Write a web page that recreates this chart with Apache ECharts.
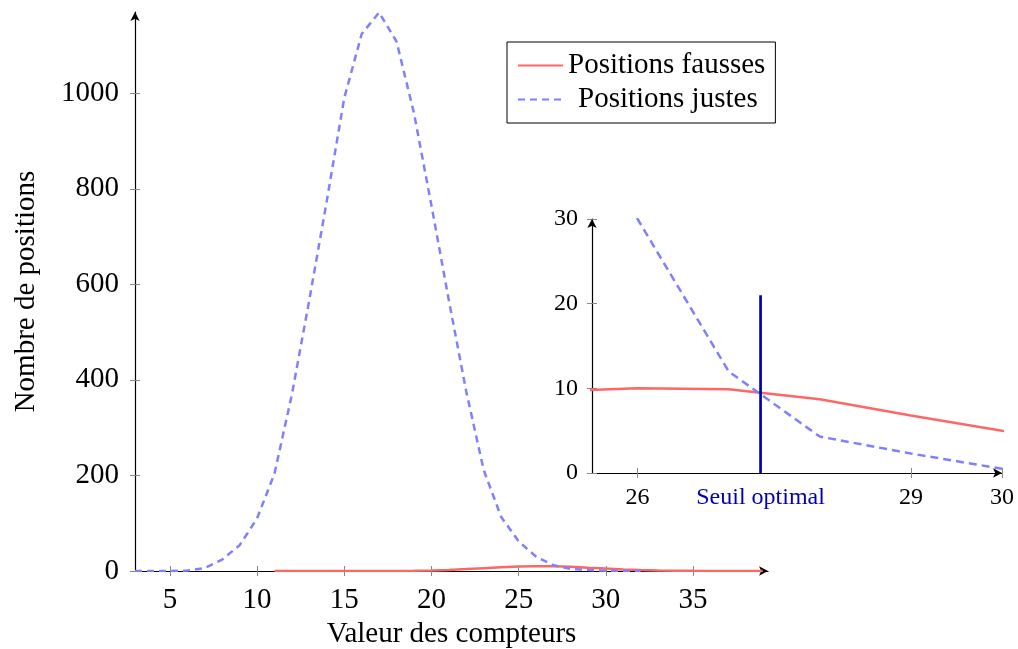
<!DOCTYPE html>
<html>
<head>
<meta charset="utf-8">
<script src="https://cdn.jsdelivr.net/npm/echarts@6/dist/echarts.min.js"></script>
<style>
html,body{margin:0;padding:0;background:#fff;}
#chart{width:1018px;height:649px;}
</style>
</head>
<body>
<div id="chart"></div>
<script>
// ---- data ----
const seriesNames = ['Positions fausses', 'Positions justes'];
const justesX = [3,4,5,6,7,8,9,10,11,12,13,14,15,16,17,18,19,20,21,22,23,24,25,26,27,28,29,30,31,32];
const justesY = [0,0,0,1,6,24,54,110,204,370,568,775,990,1124,1169,1108,958,765,566,375,211,113,62,30,12,4.3,2.3,0.5,0,0];
const faussesX = [11,12,13,14,15,16,17,18,19,20,21,22,23,24,25,26,27,28,29,30,31,32,33,34,35,36,37,38,39];
const faussesY = [0,0,0,0,0,0,0.1,0.2,0.5,1.2,2.3,4,6,8,9.6,10,9.9,8.7,6.8,5,3.3,2,1.2,0.7,0.4,0.2,0.1,0.05,0];
const seuilX = 27.35;
const seuilTop = 21;
const seuilLabel = 'Seuil optimal';
const mainXTicks = [5,10,15,20,25,30,35];
const mainYTicks = [0,200,400,600,800,1000];
const insetXTicks = [26,29,30];
const insetYTicks = [0,10,20,30];
const xTitle = 'Valeur des compteurs';
const yTitle = 'Nombre de positions';

// ---- styles ----
const FONT = 'Liberation Serif';
const RED = '#ff6666';
const BLUE = '#8080ff';
const DARKBLUE = '#0000b3';
const TICK = '#888888';

const pairs = (xs, ys) => xs.map((x, i) => [x, ys[i]]);

function axisPair(pos, grid, min, max, labelVals, tickVals, fontSize, margin, extra) {
  const base = {
    type: 'value', gridIndex: grid, min: min, max: max, position: pos,
    splitLine: {show: false}
  };
  const main = Object.assign({}, base, {
    axisLine: {show: true, onZero: false, symbol: ['none', 'arrow'], symbolSize: [7, 9],
      lineStyle: {color: '#000', width: 1.2}},
    axisTick: {show: true, inside: false, length: 5, customValues: tickVals, lineStyle: {color: TICK, width: 1}},
    axisLabel: {show: true, customValues: labelVals, margin: margin, color: '#000',
      fontFamily: FONT, fontSize: fontSize, formatter: function (v) { return String(v); }},
  }, extra || {});
  const inner = Object.assign({}, base, {
    axisLine: {show: false, onZero: false},
    axisTick: {show: true, inside: true, length: 5, customValues: tickVals, lineStyle: {color: TICK, width: 1}},
    axisLabel: {show: false}
  });
  return [main, inner];
}

const mx = axisPair('bottom', 0, 3, 39.3, mainXTicks, mainXTicks, 29, 15,
  {name: xTitle, nameLocation: 'middle', nameGap: 47,
   nameTextStyle: {fontFamily: FONT, fontSize: 29, color: '#000'}});
const my = axisPair('left', 0, 0, 1170, mainYTicks, mainYTicks, 29, 16,
  {name: yTitle, nameLocation: 'middle', nameGap: 94,
   nameTextStyle: {fontFamily: FONT, fontSize: 29, color: '#000'}});
const ix = axisPair('bottom', 1, 25.5, 30, insetXTicks.concat([seuilX]), insetXTicks, 24, 13, {});
ix[0].axisLabel.formatter = function (v) {
  if (Math.abs(v - seuilX) < 1e-6) return '{s|' + seuilLabel + '}';
  return String(v);
};
ix[0].axisLabel.rich = {s: {color: DARKBLUE, fontFamily: FONT, fontSize: 24}};
const iy = axisPair('left', 1, 0, 30, insetYTicks, insetYTicks, 24, 14, {});

const option = {
  animation: false,
  backgroundColor: '#fff',
  grid: [
    {left: 135, right: 250, top: 12, bottom: 78, containLabel: false, outerBoundsMode: 'none'},
    {left: 592, right: 16, top: 219, bottom: 176, containLabel: false, outerBoundsMode: 'none'}
  ],
  legend: {
    data: seriesNames,
    orient: 'vertical',
    left: 507, top: 42,
    padding: [9, 10, 9, 10],
    itemGap: 5,
    itemWidth: 45, itemHeight: 14,
    borderColor: '#000', borderWidth: 1, borderRadius: 0,
    itemStyle: {opacity: 0, color: 'rgba(0,0,0,0)', borderWidth: 0},
    formatter: function (name) {
      return name === seriesNames[1] ? '{c|' + name + '}' : '{n|' + name + '}';
    },
    textStyle: {fontFamily: FONT, fontSize: 29, color: '#000', lineHeight: 29,
      rich: {
        n: {fontFamily: FONT, fontSize: 29, color: '#000', lineHeight: 29},
        c: {fontFamily: FONT, fontSize: 29, color: '#000', lineHeight: 29, padding: [0, 0, 0, 10]}
      }}
  },
  xAxis: [mx[0], mx[1], ix[0], ix[1]],
  yAxis: [my[0], my[1], iy[0], iy[1]],
  series: [
    {name: seriesNames[0], type: 'line', xAxisIndex: 0, yAxisIndex: 0, symbol: 'none',
     data: pairs(faussesX, faussesY), lineStyle: {color: RED, width: 2.5}, itemStyle: {color: RED}},
    {name: seriesNames[1], type: 'line', xAxisIndex: 0, yAxisIndex: 0, symbol: 'none',
     data: pairs(justesX, justesY), lineStyle: {color: BLUE, width: 2.5, type: [7, 5]}, itemStyle: {color: BLUE}},
    {name: seriesNames[0], type: 'line', xAxisIndex: 2, yAxisIndex: 2, symbol: 'none', clip: true,
     data: pairs(faussesX, faussesY), lineStyle: {color: RED, width: 2.5}, itemStyle: {color: RED}},
    {name: seriesNames[1], type: 'line', xAxisIndex: 2, yAxisIndex: 2, symbol: 'none', clip: true,
     data: pairs(justesX, justesY), lineStyle: {color: BLUE, width: 2.5, type: [8, 5]}, itemStyle: {color: BLUE}},
    {name: 'seuil', type: 'line', xAxisIndex: 2, yAxisIndex: 2, symbol: 'none', clip: true,
     data: [[seuilX, 0], [seuilX, seuilTop]], lineStyle: {color: DARKBLUE, width: 2.7}, itemStyle: {color: DARKBLUE}}
  ]
};

const chart = echarts.init(document.getElementById('chart'), null, {renderer: 'canvas'});
chart.setOption(option);
</script>
</body>
</html>
